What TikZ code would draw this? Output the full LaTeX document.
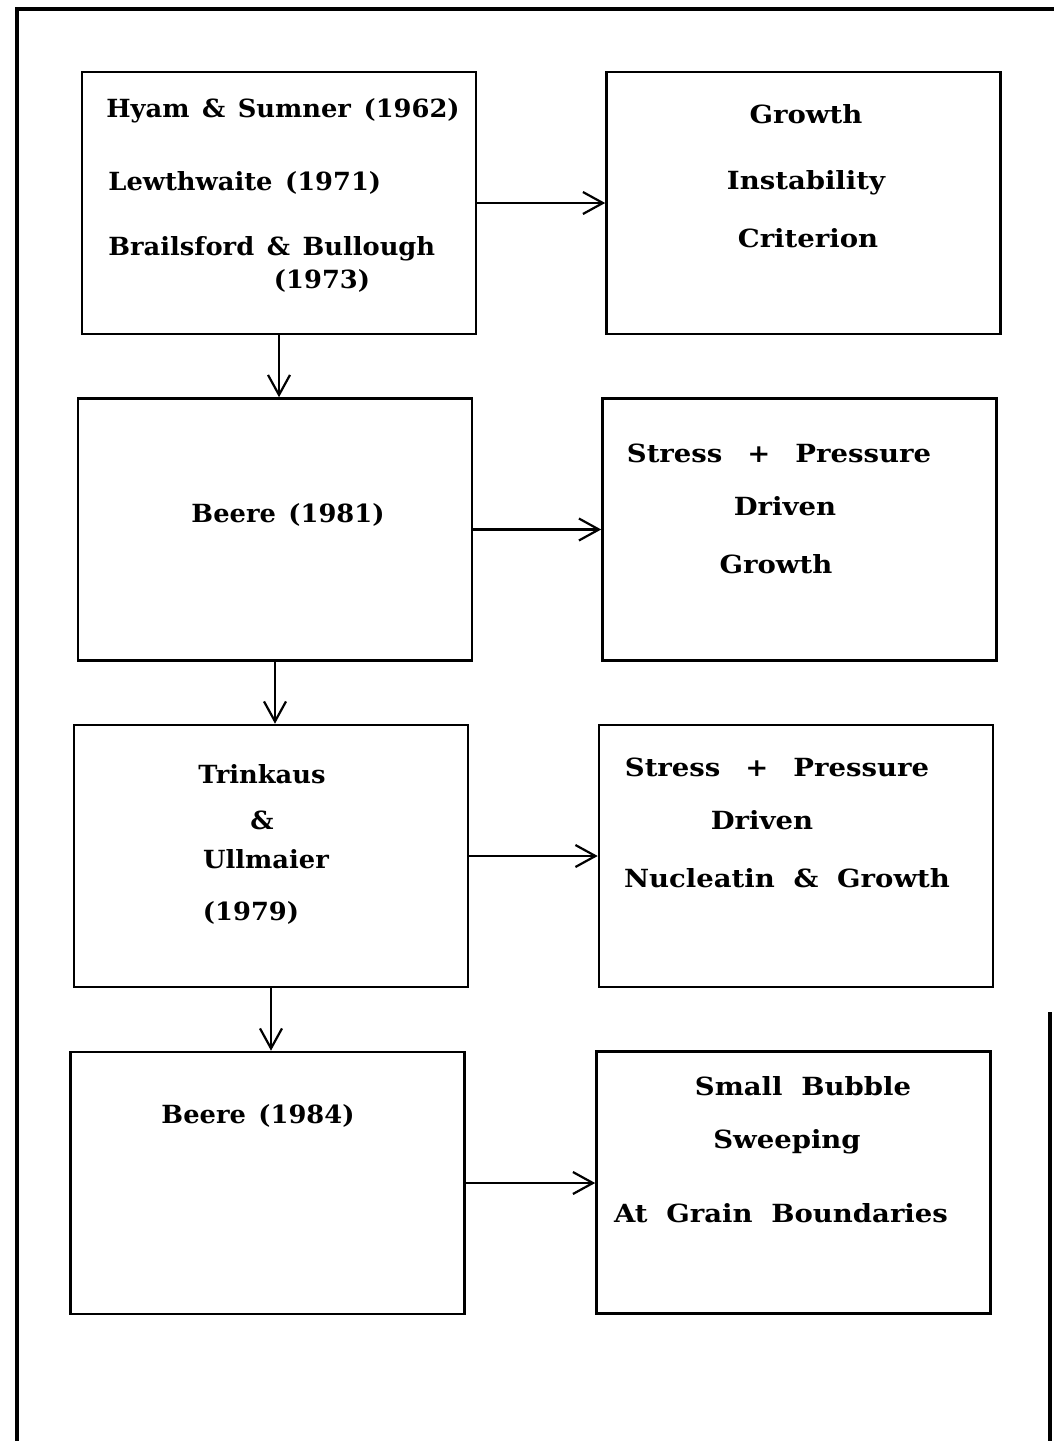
\documentclass[tikz,border=0pt]{standalone}
\usepackage{fontspec}
\setmainfont{DejaVu Serif}[FakeStretch=1.1]
\newfontfamily\leftfam{DejaVu Serif}[FakeStretch=1.03]
\usetikzlibrary{arrows.meta}
\newcommand\myrtxtfont{\fontsize{12.5pt}{14pt}\selectfont\bfseries\spaceskip=0.75em\relax}
\newcommand\myltxtfont{\leftfam\fontsize{12.5pt}{14pt}\selectfont\bfseries\spaceskip=0.5em\relax}
\begin{document}
\begin{tikzpicture}[x=0.5pt,y=-0.5pt,
  box/.style={draw,line width=1.3pt,inner sep=0pt,minimum width=197pt,minimum height=131pt},
  rtxt/.style={inner sep=0pt,font=\myrtxtfont},
  ltxt/.style={inner sep=0pt,font=\myltxtfont},
  arr/.style={line width=1.1pt,-{Straight Barb[length=10pt,width=11pt,line width=1.1pt]}},
  frame/.style={line width=2pt}]
\useasboundingbox (0,0) rectangle (1054,1441);
% outer frame
\coordinate (f1) at (17,1441);
\coordinate (f2) at (17,9);
\coordinate (f3) at (1054,9);
\coordinate (f4) at (1050,1012);
\coordinate (f5) at (1050,1441);
\draw[frame] (f1) -- (f2) -- (f3);
\draw[frame] (f4) -- (f5);
% boxes
\node[box] (b1) at (279,203) {};
\node[box] (b2) at (803.5,203) {};
\node[box] (b3) at (275,529.5) {};
\node[box] (b4) at (799.5,529.5) {};
\node[box] (b5) at (271,856) {};
\node[box] (b6) at (796,856) {};
\node[box] (b7) at (267.5,1183) {};
\node[box] (b8) at (793.5,1182.5) {};
% texts
\node[ltxt,anchor=mid] (t1a) at (283,112) {Hyam \& Sumner (1962)};
\node[ltxt,anchor=mid west] (t1b) at (108,185) {Lewthwaite (1971)};
\node[ltxt,anchor=mid west] (t1c) at (108,250) {Brailsford \& Bullough};
\node[ltxt,anchor=mid] (t1d) at (322,283) {(1973)};
\node[rtxt,anchor=mid] (t2a) at (806,118) {Growth};
\node[rtxt,anchor=mid] (t2b) at (806,184) {Instability};
\node[rtxt,anchor=mid] (t2c) at (808,242) {Criterion};
\node[ltxt,anchor=mid] (t3a) at (288,517) {Beere (1981)};
\node[rtxt,anchor=mid] (t4a) at (779,457) {Stress\hspace{1em}+\hspace{1em}Pressure};
\node[rtxt,anchor=mid] (t4b) at (785,510) {Driven};
\node[rtxt,anchor=mid] (t4c) at (776,568) {Growth};
\node[ltxt,anchor=mid] (t5a) at (262,778) {Trinkaus};
\node[ltxt,anchor=mid] (t5b) at (262,824) {\&};
\node[ltxt,anchor=mid] (t5c) at (266,863) {Ullmaier};
\node[ltxt,anchor=mid] (t5d) at (251,915) {(1979)};
\node[rtxt,anchor=mid] (t6a) at (777,771) {Stress\hspace{1em}+\hspace{1em}Pressure};
\node[rtxt,anchor=mid] (t6b) at (762,824) {Driven};
\node[rtxt,anchor=mid] (t6c) at (787,882) {Nucleatin \& Growth};
\node[ltxt,anchor=mid] (t7a) at (258,1118) {Beere (1984)};
\node[rtxt,anchor=mid] (t8a) at (803,1090) {Small Bubble};
\node[rtxt,anchor=mid] (t8b) at (787,1143) {Sweeping};
\node[rtxt,anchor=mid] (t8c) at (781,1217) {At Grain Boundaries};
% connectors
\draw[arr] (b1.east) -- (b1.east -| b2.west);
\draw[arr] (b3.east) -- (b3.east -| b4.west);
\draw[arr] (b5.east) -- (b5.east -| b6.west);
\draw[arr] (b7.east) -- (b7.east -| b8.west);
\draw[arr] (b1.south) -- (b1.south |- b3.north);
\draw[arr] (b3.south) -- (b3.south |- b5.north);
\draw[arr] (b5.south) -- (b5.south |- b7.north);
\end{tikzpicture}
\end{document}
